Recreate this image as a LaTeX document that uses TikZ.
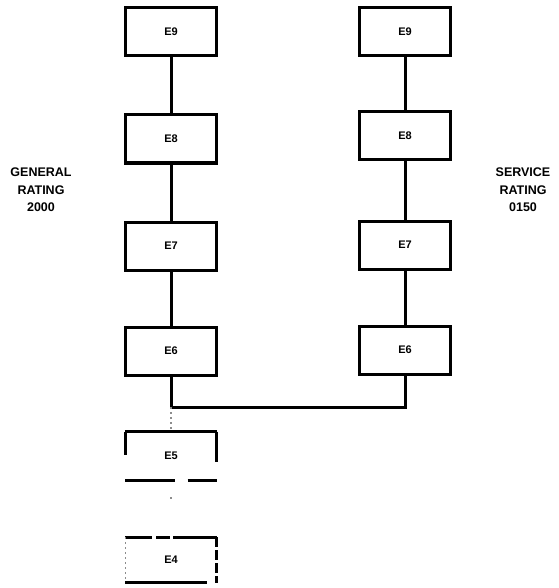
\documentclass[tikz,border=0pt]{standalone}
\usepackage{fontspec}
\setmainfont{Liberation Sans}
\usetikzlibrary{calc}
\begin{document}
\begin{tikzpicture}[x=1pt,y=-1pt,
  box/.style={draw=black,line width=3pt,minimum width=91pt,minimum height=48pt,
    inner sep=0pt,font=\fontsize{11}{11}\selectfont\bfseries},
  ghost/.style={draw=none,minimum width=91pt,minimum height=48pt,
    inner sep=0pt,font=\fontsize{11}{11}\selectfont\bfseries},
  conn/.style={draw=black,line width=3pt},
  edge/.style={draw=black,line width=3pt},
  faint/.style={draw=black!45,line width=1.4pt,dash pattern=on 2pt off 3pt},
  rating/.style={align=center,font=\fontsize{12.5}{17.5}\selectfont\bfseries,inner sep=0pt}]
\useasboundingbox[fill=white] (0,0) rectangle (558,588);

% left column
\node[box] (L9) at (171,31.5) {E9};
\node[box] (L8) at (171,139) {E8};
\node[box] (L7) at (171,246) {E7};
\node[box] (L6) at (171,351) {E6};
\node[ghost] (L5) at (171,456) {E5};
\node[ghost,minimum height=45pt] (L4) at (171,560) {E4};

% right column
\node[box] (R9) at (405,31.5) {E9};
\node[box] (R8) at (405,136) {E8};
\node[box] (R7) at (405,245) {E7};
\node[box] (R6) at (405,350) {E6};

% labels
\node[rating] (gen) at (41,190) {GENERAL\\RATING\\2000};
\node[rating] (srv) at (523,190) {SERVICE\\RATING\\0150};

% connectors
\draw[conn] (L9) -- (L8);
\draw[conn] (L8) -- (L7);
\draw[conn] (L7) -- (L6);
\draw[conn] (R9) -- (R8);
\draw[conn] (R8) -- (R7);
\draw[conn] (R7) -- (R6);
\coordinate (J) at (171,407);
\draw[conn] (L6.south) -- (J);
\draw[conn] (R6.south) |- (J);
\draw[faint] (J) -- (L5.north);
\draw[faint,dash pattern=on 0pt off 17pt on 1.5pt off 40pt] (L5.south) -- (L4.north);

% broken outline of E5
\draw[edge] (L5.north west) -- (L5.north east);
\draw[edge] (L5.north west) -- ++(0,23);
\draw[edge] (L5.north east) -- ++(0,30);
\draw[edge] (L5.south west) -- ++(50,0);
\draw[edge] ([xshift=-29pt]L5.south east) -- (L5.south east);

% broken outline of E4
\draw[edge] (L4.north west) -- ++(27,0);
\draw[edge] ([xshift=31pt]L4.north west) -- ++(14,0);
\draw[edge] ([xshift=48pt]L4.north west) -- (L4.north east);
\draw[faint] (L4.north west) -- (L4.south west);
\draw[edge,dash pattern=on 10pt off 3pt] (L4.north east) -- (L4.south east);
\draw[edge] (L4.south west) -- ++(82,0);
\end{tikzpicture}
\end{document}
